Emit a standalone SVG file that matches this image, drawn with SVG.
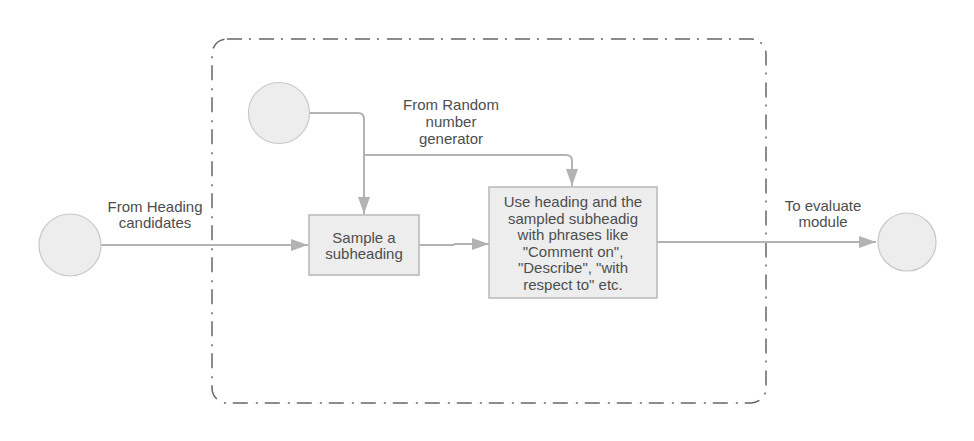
<svg xmlns="http://www.w3.org/2000/svg" width="974" height="441" viewBox="0 0 974 441">
<style>
.t{font-family:"Liberation Sans",Arial,sans-serif;font-size:15px;fill:#4d4d4d;text-anchor:middle}
.n{fill:#ededed;stroke:#c8c8c8;stroke-width:1.2}
.b{fill:#ededed;stroke:#b8b8b8;stroke-width:1.5}
.c{fill:none;stroke:#b3b3b3;stroke-width:2}
</style>
<defs>
<marker id="ah" markerWidth="18" markerHeight="12" refX="17" refY="6" orient="auto" markerUnits="userSpaceOnUse">
<path d="M0,0 L17,6 L0,12 Z" fill="#b3b3b3"/>
</marker>
</defs>
<rect width="974" height="441" fill="#ffffff"/>
<g id="container">
<rect x="212" y="39" width="554" height="364" rx="15" ry="15" fill="none" stroke="#666666" stroke-width="1.5" stroke-dasharray="15 7 2 8"/>
</g>
<g id="connectors">
<path class="c" d="M101,245 L308,245" marker-end="url(#ah)"/>
<path class="c" d="M309,113 L358,113 Q364,113 364,119 L364,214" marker-end="url(#ah)"/>
<path class="c" d="M364,155 L566,155 Q572,155 572,161 L572,186" marker-end="url(#ah)"/>
<path class="c" d="M419,245 L453,245 L455,244 L489,244" marker-end="url(#ah)"/>
<path class="c" d="M657,242 L876,242" marker-end="url(#ah)"/>
<text class="t" x="155" y="212">From Heading</text>
<text class="t" x="155" y="228">candidates</text>
<text class="t" x="451" y="110">From Random</text>
<text class="t" x="451" y="127">number</text>
<text class="t" x="451" y="144">generator</text>
<text class="t" x="823" y="211">To evaluate</text>
<text class="t" x="823" y="227">module</text>
</g>
<g id="start-heading"><circle class="n" cx="70" cy="245" r="31"/></g>
<g id="start-random"><circle class="n" cx="279" cy="113" r="30.5"/></g>
<g id="end-evaluate"><circle class="n" cx="907" cy="242" r="29"/></g>
<g id="sample">
<rect class="b" x="309" y="215" width="110" height="60"/>
<text class="t" x="364" y="243">Sample a</text>
<text class="t" x="364" y="259">subheading</text>
</g>
<g id="combine">
<rect class="b" x="489" y="187" width="168" height="111"/>
<text class="t" x="573" y="207">Use heading and the</text>
<text class="t" x="573" y="223.5">sampled subheadig</text>
<text class="t" x="573" y="240">with phrases like</text>
<text class="t" x="573" y="256.5">"Comment on",</text>
<text class="t" x="573" y="273">"Describe", "with</text>
<text class="t" x="573" y="290">respect to" etc.</text>
</g>
</svg>
